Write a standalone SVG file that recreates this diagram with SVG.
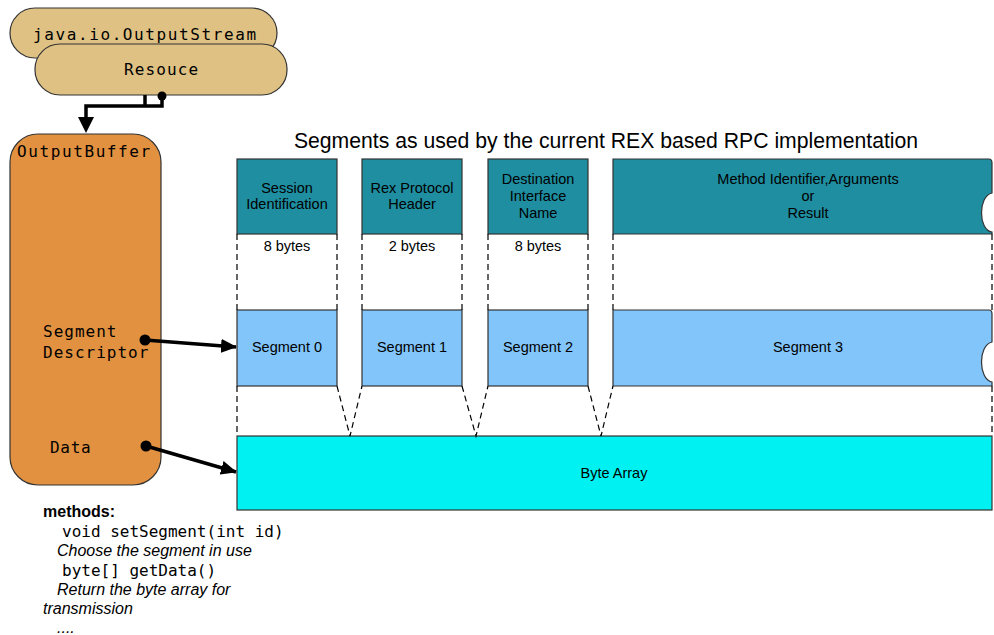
<svg xmlns="http://www.w3.org/2000/svg" width="994" height="635" viewBox="0 0 994 635">
  <defs>
    <style>
      .mono { font-family: "DejaVu Sans Mono", "Liberation Mono", monospace; font-size: 16px; fill: #000; }
      .sans { font-family: "Liberation Sans", Arial, sans-serif; fill: #000; }
      .box { font-size: 14.5px; text-anchor: middle; }
      .note { font-size: 16px; font-style: italic; }
      .pill { fill: #DFC184; stroke: #333; stroke-width: 1.2; }
      .hdr { fill: #1F8EA0; stroke: #333; stroke-width: 1.2; }
      .seg { fill: #82C5FA; stroke: #333; stroke-width: 1.2; }
      .dash { fill: none; stroke: #000; stroke-width: 1.2; stroke-dasharray: 6 4; }
      .wire { fill: none; stroke: #000; stroke-width: 3.5; }
    </style>
    <marker id="arrow" viewBox="0 0 16 14" refX="15" refY="7" markerWidth="16" markerHeight="14" markerUnits="userSpaceOnUse" orient="auto">
      <path d="M0,0 L16,7 L0,14 Z" fill="#000"/>
    </marker>
  </defs>
  <rect width="994" height="635" fill="#fff"/>

  <!-- resource pills -->
  <g id="outputstream">
    <rect class="pill" x="10" y="8" width="267" height="50" rx="25" ry="25"/>
    <text class="mono" x="33" y="40" letter-spacing="1.6">java.io.OutputStream</text>
  </g>
  <g id="resource">
    <rect class="pill" x="35" y="44" width="252" height="51" rx="25" ry="25"/>
    <text class="mono" x="124" y="75" letter-spacing="1.1">Resouce</text>
  </g>

  <!-- output buffer -->
  <g id="outputbuffer">
    <rect x="10" y="134" width="151" height="351" rx="28" ry="28" fill="#E19140" stroke="#333" stroke-width="1.2"/>
    <text class="mono" x="17" y="157" letter-spacing="1.6">OutputBuffer</text>
    <text class="mono" x="43" y="337" letter-spacing="1">Segment</text>
    <text class="mono" x="43" y="358" letter-spacing="1">Descriptor</text>
    <text class="mono" x="50" y="453" letter-spacing="0.7">Data</text>
  </g>

  <!-- title -->
  <text class="sans" x="606" y="148" font-size="21.2" text-anchor="middle">Segments as used by the current REX based RPC implementation</text>

  <!-- header row -->
  <g id="hdr-session">
    <rect class="hdr" x="237" y="159" width="100" height="75"/>
    <text class="sans box" x="287" y="193">Session</text>
    <text class="sans box" x="287" y="209">Identification</text>
    <text class="sans box" x="287" y="251">8 bytes</text>
  </g>
  <g id="hdr-rex">
    <rect class="hdr" x="362" y="159" width="100" height="75"/>
    <text class="sans box" x="412" y="193">Rex Protocol</text>
    <text class="sans box" x="412" y="209">Header</text>
    <text class="sans box" x="412" y="251">2 bytes</text>
  </g>
  <g id="hdr-dest">
    <rect class="hdr" x="488" y="159" width="100" height="75"/>
    <text class="sans box" x="538" y="184">Destination</text>
    <text class="sans box" x="538" y="201">Interface</text>
    <text class="sans box" x="538" y="218">Name</text>
    <text class="sans box" x="538" y="251">8 bytes</text>
  </g>
  <g id="hdr-method">
    <path class="hdr" d="M613,159 H989 Q992,159 992,163 V193 C978,196 978,230 992,232 V234 H613 Z"/>
    <text class="sans box" x="808" y="184">Method Identifier,Arguments</text>
    <text class="sans box" x="808" y="201">or</text>
    <text class="sans box" x="808" y="218">Result</text>
  </g>

  <!-- segment row -->
  <g id="segment0">
    <rect class="seg" x="237" y="310" width="100" height="76"/>
    <text class="sans box" x="287" y="352">Segment 0</text>
  </g>
  <g id="segment1">
    <rect class="seg" x="362" y="310" width="100" height="76"/>
    <text class="sans box" x="412" y="352">Segment 1</text>
  </g>
  <g id="segment2">
    <rect class="seg" x="488" y="310" width="100" height="76"/>
    <text class="sans box" x="538" y="352">Segment 2</text>
  </g>
  <g id="segment3">
    <path class="seg" d="M613,310 H989 Q992,310 992,314 V342 C978,345 978,379 992,382 V386 H613 Z"/>
    <text class="sans box" x="808" y="352">Segment 3</text>
  </g>

  <!-- byte array -->
  <g id="bytearray">
    <rect x="237" y="436" width="755" height="74" fill="#00F1F1" stroke="#333" stroke-width="1.2"/>
    <text class="sans box" x="614" y="478">Byte Array</text>
  </g>

  <!-- connectors -->
  <g id="connectors">
    <!-- size guides between header and segment rows -->
    <path class="dash" d="M237,234 V310 M337,234 V310 M362,234 V310 M462,234 V310 M488,234 V310 M588,234 V310 M613,234 V310 M992,234 V310"/>
    <!-- segments mapped onto the byte array -->
    <path class="dash" d="M237,386 V436 M337,386 L350,436 L362,386 M462,386 L476,436 L488,386 M588,386 L601,436 L613,386 M992,386 V436"/>

    <!-- resource to output buffer -->
    <path class="wire" d="M162,95 V106 H86 V118"/>
    <path class="wire" d="M145,95 V106"/>
    <circle cx="162" cy="96" r="4.5" fill="#000"/>
    <path d="M78,117 L94,117 L86,133 Z" fill="#000"/>

    <!-- descriptor and data references -->
    <line class="wire" x1="145" y1="340" x2="236" y2="347" marker-end="url(#arrow)"/>
    <circle cx="145" cy="340" r="5.5" fill="#000"/>
    <line class="wire" x1="146" y1="446" x2="236" y2="472" marker-end="url(#arrow)"/>
    <circle cx="146" cy="446" r="5.5" fill="#000"/>
  </g>

  <!-- method notes -->
  <g id="methods">
    <text class="sans" x="43" y="517" font-size="16" font-weight="bold">methods:</text>
    <text class="mono" x="62" y="537">void setSegment(int id)</text>
    <text class="sans note" x="57" y="556">Choose the segment in use</text>
    <text class="mono" x="62" y="576">byte[] getData()</text>
    <text class="sans note" x="57" y="595">Return the byte array for</text>
    <text class="sans note" x="43" y="614">transmission</text>
    <text class="sans note" x="57" y="633">....</text>
  </g>
</svg>
